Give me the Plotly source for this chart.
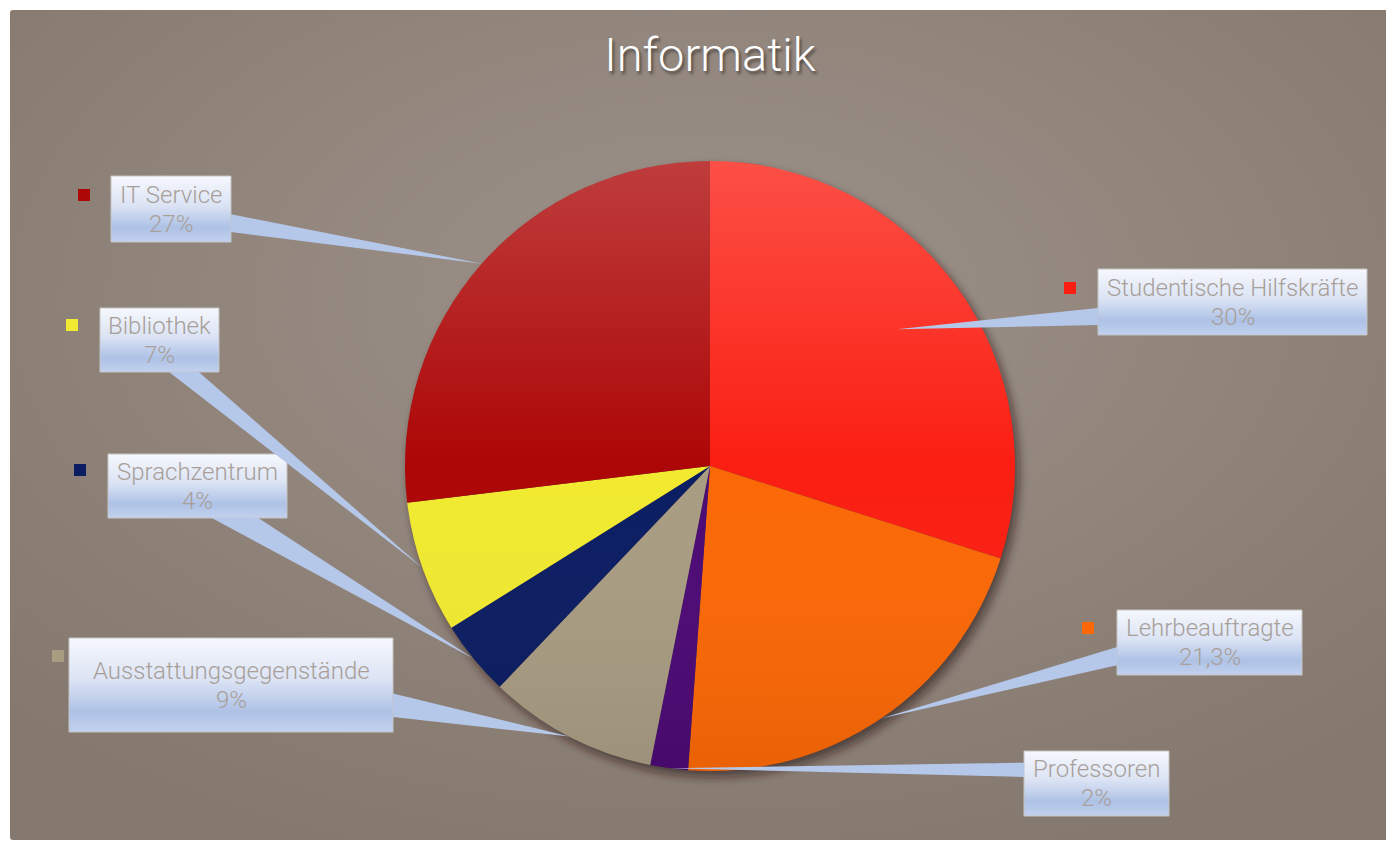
import base64
import math
import plotly.graph_objects as go

# ---------------- data ----------------
categories = ["Studentische Hilfskräfte", "Lehrbeauftragte", "Professoren",
              "Ausstattungsgegenstände", "Sprachzentrum", "Bibliothek", "IT Service"]
values = [30, 21.3, 2, 9, 4, 7, 27]
title_text = "Informatik"

# ---------------- style / layout ----------------
slice_colors = ["#fb1e12", "#fb6806", "#4c0a74", "#a89c82", "#0b1d62", "#f1ea30", "#ad0606"]
OFF = 8                      # page body margin
W, H = 1386, 834             # figure size
FRAME = (10, 10, 1390, 840)  # page coordinates
CX, CY, R = 710, 466, 305    # page coordinates

# box: (x0, y0, x1, y1), leader side, leader base fractions, tip radius fraction, marker offset
label_layout = {
    "Studentische Hilfskräfte": ((1098, 269, 1367, 335), "left", (0.59, 0.85), 0.76, (-28, 19)),
    "Lehrbeauftragte": ((1117, 610, 1302, 675), "left", (0.57, 0.85), 1.0, (-29, 18)),
    "Professoren": ((1024, 751, 1169, 816), "left", (0.18, 0.40), 1.0, (-28, 18)),
    "Ausstattungsgegenstände": ((69, 638, 393, 732), "right", (0.59, 0.84), 1.0, (-11, 18)),
    "Sprachzentrum": ((108, 454, 287, 518), "bottom", (0.58, 0.84), 1.0, (-28, 16)),
    "Bibliothek": ((100, 308, 219, 372), "bottom", (0.58, 0.83), 1.0, (-28, 17)),
    "IT Service": ((111, 176, 231, 242), "right", (0.58, 0.85), 1.0, (-27, 19)),
}
label_font_color = "#a89f99"
leader_color = "#b6c8ea"
box_scale = [[0, "#f6f8fd"], [0.45, "#dbe3f4"], [0.78, "#aec2e6"], [1, "#c2d1ee"]]
LINE_GAP = 14.5


def pct(v):
    return f"{v:g}".replace(".", ",") + "%"


def px(x):
    return (x - OFF) / W


def py(y):
    return 1 - (y - OFF) / H


fig = go.Figure()

# background + pie shadow as svg image (below everything)
fx0, fy0, fx1, fy1 = FRAME
fw, fh = fx1 - fx0, fy1 - fy0
bg_svg = f"""<svg xmlns='http://www.w3.org/2000/svg' width='{fw}' height='{fh}' viewBox='0 0 {fw} {fh}'>
<defs>
<radialGradient id='bg' cx='50%' cy='35%' r='70%'>
<stop offset='0' stop-color='#9d928a'/>
<stop offset='1' stop-color='#85786e'/>
</radialGradient>
<filter id='bl' x='-20%' y='-20%' width='140%' height='140%'><feGaussianBlur stdDeviation='5'/></filter>
</defs>
<rect x='0' y='0' width='{fw}' height='{fh}' rx='3' fill='url(#bg)'/>
<circle cx='{CX - fx0 + 4}' cy='{CY - fy0 + 6}' r='{R}' fill='rgba(40,25,15,0.6)' filter='url(#bl)'/>
</svg>"""
overlay_svg = f"""<svg xmlns='http://www.w3.org/2000/svg' width='{2*R}' height='{2*R}' viewBox='0 0 {2*R} {2*R}'>
<defs>
<linearGradient id='g' x1='0' y1='0' x2='0' y2='1'>
<stop offset='0' stop-color='#ffffff' stop-opacity='0.22'/>
<stop offset='0.5' stop-color='#ffffff' stop-opacity='0'/>
<stop offset='1' stop-color='#000000' stop-opacity='0.07'/>
</linearGradient>
</defs>
<circle cx='{R}' cy='{R}' r='{R}' fill='url(#g)'/>
</svg>"""


def uri(s):
    return "data:image/svg+xml;base64," + base64.b64encode(s.encode("utf-8")).decode("ascii")


images = [
    dict(source=uri(bg_svg), xref="paper", yref="paper", x=px(fx0), y=py(fy0),
         sizex=fw / W, sizey=fh / H, xanchor="left", yanchor="top", sizing="stretch", layer="below"),
    dict(source=uri(overlay_svg), xref="paper", yref="paper", x=px(CX - R), y=py(CY - R),
         sizex=2 * R / W, sizey=2 * R / H, xanchor="left", yanchor="top", sizing="stretch", layer="above"),
]

# pie
fig.add_trace(go.Pie(
    labels=categories, values=values, sort=False, direction="clockwise", rotation=0,
    marker=dict(colors=slice_colors, line=dict(width=0)),
    textinfo="none", textposition="none", hoverinfo="label+percent", showlegend=False,
    domain=dict(x=[px(CX - R), px(CX + R)], y=[py(CY + R), py(CY - R)]),
))

# label boxes, markers, leaders
total = sum(values)
cum = 0.0
shapes = []
annotations = []
label_font = dict(family="Roboto", size=24, color=label_font_color, weight=300)
for cat, val, col in zip(categories, values, slice_colors):
    mid = (cum + val / 2) / total * 2 * math.pi
    cum += val
    (x0, y0, x1, y1), side, (f1, f2), tf, (mdx, mdy) = label_layout[cat]
    bw, bh = x1 - x0, y1 - y0
    # box
    fig.add_trace(go.Scatter(
        x=[x0, x1, x1, x0, x0], y=[y0, y0, y1, y1, y0], mode="lines", fill="toself",
        fillgradient=dict(type="vertical", colorscale=box_scale, start=y0, stop=y1),
        line=dict(color="#c4c4c4", width=1), hoverinfo="skip", showlegend=False,
    ))
    # marker
    fig.add_trace(go.Scatter(
        x=[x0 + mdx], y=[y0 + mdy], mode="markers",
        marker=dict(symbol="square", size=12, color=col, line=dict(width=0)),
        hoverinfo="skip", showlegend=False,
    ))
    # leader wedge
    tx = CX + tf * R * math.sin(mid)
    ty = CY - tf * R * math.cos(mid)
    if side == "left":
        b1, b2 = (x0, y0 + f1 * bh), (x0, y0 + f2 * bh)
    elif side == "right":
        b1, b2 = (x1, y0 + f1 * bh), (x1, y0 + f2 * bh)
    else:
        b1, b2 = (x0 + f1 * bw, y1), (x0 + f2 * bw, y1)
    shapes.append(dict(
        type="path", xref="x", yref="y", layer="above",
        path=f"M {b1[0]:.1f},{b1[1]:.1f} L {b2[0]:.1f},{b2[1]:.1f} L {tx:.1f},{ty:.1f} Z",
        fillcolor=leader_color, line=dict(width=0),
    ))
    xc, yc = (x0 + x1) / 2, (y0 + y1) / 2
    for txt, dy in ((cat, -LINE_GAP), (pct(val), LINE_GAP)):
        annotations.append(dict(
            x=xc, y=yc + dy, xref="x", yref="y", text=txt, showarrow=False,
            xanchor="center", yanchor="middle", align="center", font=label_font,
        ))

fig.update_layout(
    width=W, height=H, autosize=False,
    margin=dict(l=0, r=0, t=0, b=0, pad=0),
    paper_bgcolor="#ffffff", plot_bgcolor="rgba(0,0,0,0)",
    xaxis=dict(range=[OFF, OFF + W], visible=False, fixedrange=True),
    yaxis=dict(range=[OFF + H, OFF], visible=False, fixedrange=True),
    title=dict(text=title_text, x=px(710), xref="paper", xanchor="center",
               y=py(55), yref="paper", yanchor="middle",
               font=dict(family="Roboto", size=47, color="#ffffff", weight=300,
                         shadow="2px 3px 3px rgba(0,0,0,0.45)")),
    shapes=shapes, annotations=annotations, images=images, showlegend=False,
)

fig.write_html("out.html")
